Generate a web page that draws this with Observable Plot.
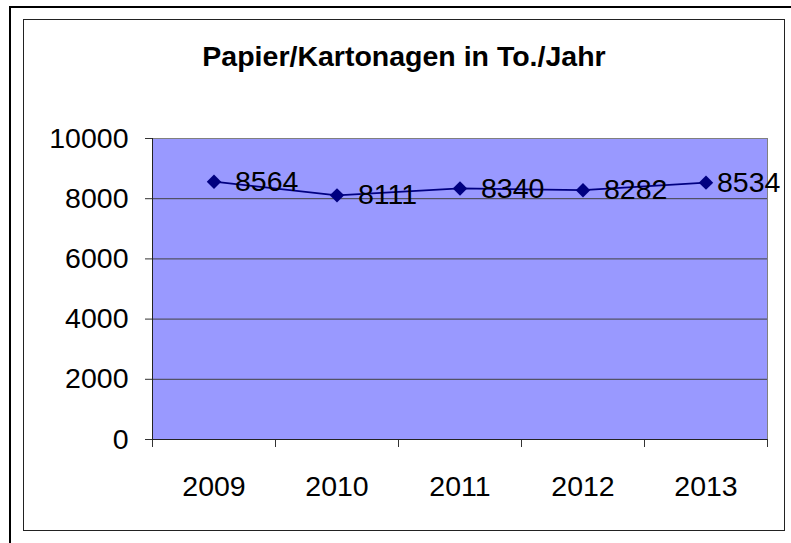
<!DOCTYPE html>
<html><head><meta charset="utf-8">
<script src="https://cdn.jsdelivr.net/npm/d3@7"></script>
<script src="https://cdn.jsdelivr.net/npm/@observablehq/plot@0.6"></script>
<style>
html,body{margin:0;padding:0;background:#fff;}
#wrap{position:relative;width:791px;height:543px;overflow:hidden;font-family:"Liberation Sans",Arial,sans-serif;}
#outer{position:absolute;left:9px;top:6px;width:800px;height:600px;border:2px solid #000;box-sizing:border-box}
#inner{position:absolute;left:23px;top:19px;width:762px;height:512px;border:1px solid #222;box-sizing:border-box}
#title{position:absolute;left:23px;width:762px;top:39px;text-align:center;font-weight:bold;font-size:28.5px;line-height:34px;color:#000}
#chart{position:absolute;left:0;top:0}
</style></head>
<body>
<div id="wrap">
  <div id="outer"></div>
  <div id="inner"></div>
  <div id="title">Papier/Kartonagen in To./Jahr</div>
  <div id="chart"></div>
</div>
<script>
const years = [2009, 2010, 2011, 2012, 2013];
const values = [8564, 8111, 8340, 8282, 8534];
const yTicks = [0, 2000, 4000, 6000, 8000, 10000];
const titleText = "Papier/Kartonagen in To./Jahr";

const data = years.map((y, i) => ({year: y, value: values[i]}));
const bounds = [...years.map(y => y - 0.5), years[years.length - 1] + 0.5];
const FS = 28.5;

const chart = Plot.plot({
  width: 791, height: 543,
  marginLeft: 152, marginRight: 24, marginTop: 138, marginBottom: 104,
  style: {fontFamily: '"Liberation Sans", Arial, sans-serif', fontSize: FS + "px", color: "#000", background: "transparent", overflow: "visible"},
  x: {type: "linear", domain: [bounds[0], bounds[bounds.length - 1]], label: null},
  y: {domain: [0, 10000], label: null},
  marks: [
    Plot.frame({fill: "#9999FF", stroke: "#808080"}),
    Plot.ruleY(yTicks.filter(d => d > 0 && d < 10000), {stroke: "#404040", strokeWidth: 1}),
    Plot.axisY(yTicks, {tickSize: 7, tickPadding: 17, fontSize: FS, stroke: "#333", fill: "#000", label: null, tickFormat: d => String(d)}),
    Plot.axisX(bounds, {tickSize: 8, stroke: "#333", label: null, tickFormat: () => ""}),
    Plot.axisX(years, {tickSize: 0, tickPadding: 36, fontSize: FS, fill: "#000", label: null, tickFormat: d => String(d)}),
    Plot.ruleX([bounds[0]], {stroke: "#222"}),
    Plot.ruleY([0], {stroke: "#222"}),
    Plot.line(data, {x: "year", y: "value", stroke: "#000080", strokeWidth: 1.75}),
    Plot.dot(data, {x: "year", y: "value", symbol: "diamond2", r: 6.5, fill: "#000080", stroke: "none"}),
    Plot.text(data.slice(0, -1), {x: "year", y: "value", text: d => String(d.value), textAnchor: "start", dx: 21, fontSize: FS, fill: "#000"}),
    Plot.text(data.slice(-1), {x: "year", y: "value", text: d => String(d.value), textAnchor: "start", dx: 11, fontSize: FS, fill: "#000"})
  ]
});
document.getElementById("chart").appendChild(chart);
</script>
</body></html>
